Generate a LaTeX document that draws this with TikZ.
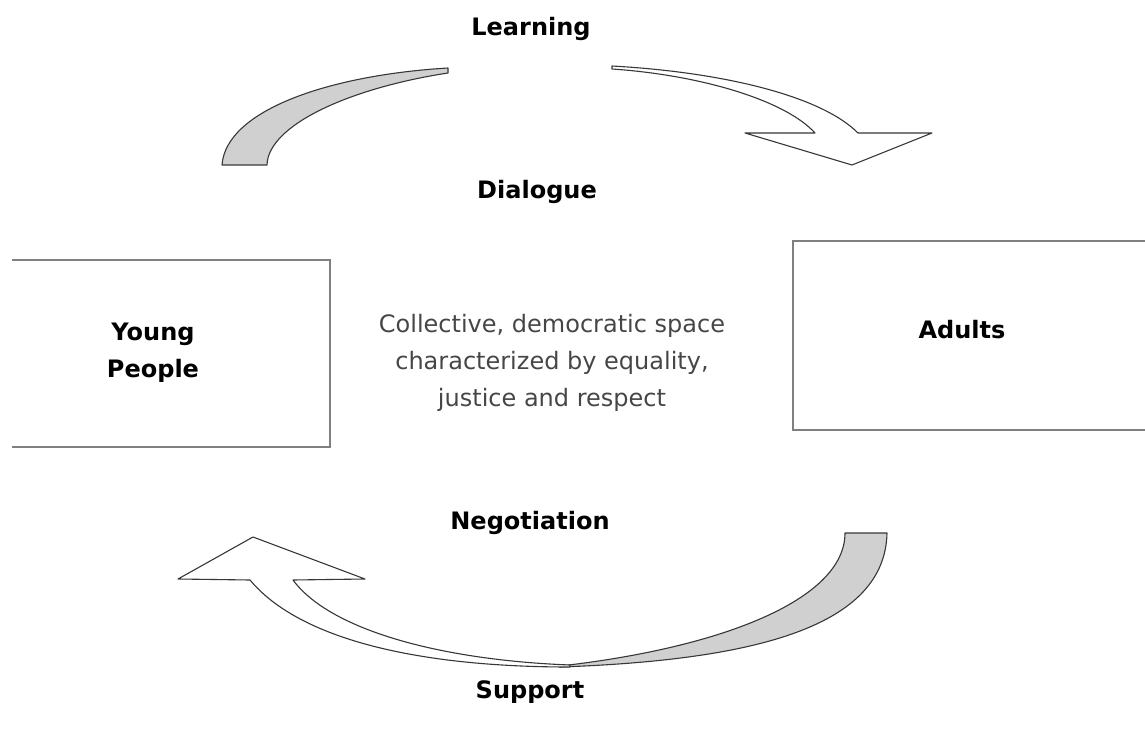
\documentclass[tikz,border=0pt]{standalone}
\usepackage{fontspec}
\setmainfont{DejaVu Sans}
\usepackage{xcolor}
\usetikzlibrary{calc}

\definecolor{framegray}{RGB}{128,128,128}
\definecolor{bandgray}{RGB}{208,208,208}
\definecolor{edgegray}{RGB}{55,55,55}
\definecolor{blurbgray}{RGB}{70,70,70}

\tikzset{
  word/.style={font=\fontsize{24}{37}\selectfont\bfseries, anchor=base, inner sep=0pt},
  blurb/.style={font=\fontsize{24}{37}\selectfont, text=blurbgray, align=center, inner sep=0pt},
  panel/.style={minimum width=#1, minimum height=187pt, inner sep=0pt, outer sep=0pt},
  frame/.style={draw=framegray, line width=1.4pt},
  band/.style={draw=edgegray, line width=1.1pt, line join=round},
}

\begin{document}
\begin{tikzpicture}[x=1pt,y=-1pt]
  \clip (0,0) rectangle (1145,738);

  % Side panels (left one open on the left, right one runs off the page)
  \node[panel=318pt] (young) at (171,353.5) {};
  \node[panel=367pt, minimum height=189pt] (adults) at (976.5,335.5) {};
  \draw[frame] (young.north west) -- (young.north east) -- (young.south east) -- (young.south west);
  \draw[frame] (adults.north east) -- (adults.north west) -- (adults.south west) -- (adults.south east);

  % Panel and centre texts
  \node[word, align=center, anchor=center] (youngtxt) at (153,352.5) {Young\\People};
  \node[word] (adultstxt) at (962,338) {Adults};
  \node[blurb] (space) at (552,363) {Collective, democratic space\\characterized by equality,\\justice and respect};

  % Cycle words
  \node[word] (learn) at (531,36) {Learning};
  \node[word] (dialog) at (537,198) {Dialogue};
  \node[word] (negot) at (530,529) {Negotiation};
  \node[word] (support) at (530,698) {Support};

  % Upper half: grey back band, then white arrow heading right
  \draw[band, fill=bandgray] (222,165) .. controls (226,110) and (330,75) .. (448,68)
    -- (448,73) .. controls (350,88) and (268,125) .. (267,165) -- cycle;

  \draw[band, fill=white] (612,66) .. controls (720,72) and (820,95) .. (858,133)
    -- (932,133) -- (852,165) -- (745,133) -- (815,133)
    .. controls (785,100) and (700,75) .. (612,69) -- cycle;

  % Lower half: grey back band, then white arrow heading left
  \draw[band, fill=bandgray] (887,533) .. controls (885,625) and (760,660) .. (560,667)
    -- (560,666) .. controls (720,648) and (845,600) .. (845,533) -- cycle;

  \draw[band, fill=white] (570,667) .. controls (420,667) and (300,640) .. (250,580)
    -- (178,579) -- (253,537) -- (365,579) -- (293,580)
    .. controls (330,630) and (440,660) .. (570,665) -- cycle;
\end{tikzpicture}
\end{document}
